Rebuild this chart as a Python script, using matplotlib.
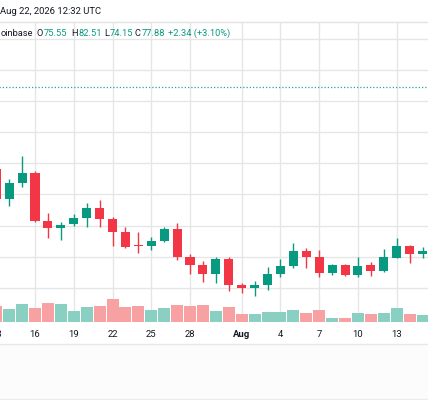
import numpy as np
import pandas as pd
import matplotlib
matplotlib.use("Agg")
import matplotlib.pyplot as plt
import matplotlib.dates as mdates
from matplotlib.lines import Line2D
from matplotlib.patches import Rectangle

plt.rcParams['font.family'] = ['Roboto', 'DejaVu Sans']

# daily candles, Jul 13 .. Aug 15
dates = pd.date_range("2026-07-13", "2026-08-15", freq="D")
opens = [72.62, 70.69, 71.76, 72.40, 69.32, 68.83, 69.08, 69.51, 70.11, 69.41,
         68.61, 67.73, 67.69, 68.01, 68.76, 66.96, 66.47, 65.89, 66.83, 65.18,
         65.01, 65.18, 65.87, 66.40, 67.37, 67.00, 65.93, 66.47, 65.82, 66.47,
         66.10, 66.94, 67.69, 67.17]
highs = [73.03, 72.02, 73.48, 72.53, 69.83, 69.25, 69.73, 70.43, 70.65, 69.55,
         68.93, 68.57, 68.25, 68.89, 69.15, 67.15, 66.72, 66.98, 66.96, 65.33,
         65.44, 66.36, 66.83, 67.90, 67.54, 67.43, 66.53, 66.53, 66.96, 66.68,
         67.48, 68.18, 67.75, 67.64]
lows = [70.39, 70.26, 71.46, 69.23, 68.18, 68.07, 68.97, 68.89, 68.89, 67.69,
        67.54, 67.26, 67.43, 67.96, 66.79, 65.89, 65.39, 65.29, 64.81, 64.65,
        64.47, 64.86, 65.68, 66.25, 66.25, 65.68, 65.82, 65.78, 65.71, 65.76,
        66.04, 66.90, 66.61, 66.90]
closes = [70.69, 71.72, 72.36, 69.32, 68.83, 69.04, 69.47, 70.11, 69.41, 68.61,
          67.64, 67.67, 68.01, 68.76, 66.96, 66.47, 65.87, 66.83, 65.18, 65.01,
          65.18, 65.87, 66.40, 67.37, 67.00, 65.93, 66.47, 65.82, 66.40, 66.10,
          66.96, 67.69, 67.17, 67.37]
volumes = [160, 130, 177, 143, 193, 177, 107, 150, 157, 227,
           150, 160, 123, 143, 170, 157, 167, 113, 147, 80,
           80, 97, 100, 123, 87, 117, 43, 37, 93, 77,
           93, 140, 83, 67]

tick_dates = pd.to_datetime(["2026-07-13", "2026-07-16", "2026-07-19", "2026-07-22",
                             "2026-07-25", "2026-07-28", "2026-08-01", "2026-08-04",
                             "2026-08-07", "2026-08-10", "2026-08-13"])
tick_labels = ["13", "16", "19", "22", "25", "28", "Aug", "4", "7", "10", "13"]
price_grid = [65, 67, 69, 71, 73, 75, 77, 79, 81]

header = "Aug 22, 2026 12:32 UTC"
exchange = "oinbase"
last_ohlc = [("O", 75.55), ("H", 82.51), ("L", 74.15), ("C", 77.88)]
last_change = 2.34
last_change_pct = 3.10

GREEN = "#089981"
RED = "#f23645"
VGREEN = "#89d0c3"
VRED = "#f7a1a3"
GRID = "#e6e6e6"
DARK = "#131722"

W, H = 428, 400
fig = plt.figure(figsize=(W / 100, H / 100), dpi=100)
fig.patch.set_facecolor("white")

def fx(px):
    return px / W

def fy(py):
    return 1 - py / H

# pane in pixels (left edge starts off-figure so the 13 tick is kept)
left_px, right_px, top_px, bot_px = -20, 428, 21.7, 322
ax_vol = fig.add_axes([fx(left_px), fy(bot_px), (right_px - left_px) / W, (bot_px - top_px) / H])
ax = ax_vol.twinx()

x = mdates.date2num(dates)
x16 = mdates.date2num(pd.Timestamp("2026-07-16"))
px_day = 12.918
ax_vol.set_xlim(x16 - (35 - left_px) / px_day, x16 + (right_px - 35) / px_day)
ax_vol.set_ylim(0, 3000)
ax.set_ylim(62.80, 82.11)

o = np.array(opens)
c = np.array(closes)
up = c >= o
colors = np.where(up, GREEN, RED)
vcolors = np.where(up, VGREEN, VRED)

# volume
ax_vol.bar(x, volumes, width=0.93, color=vcolors, linewidth=0, zorder=2)

# grid
ax_vol.set_xticks(mdates.date2num(tick_dates), labels=tick_labels)
ax_vol.grid(axis="x", color=GRID, lw=1, zorder=0)
ax_vol.set_axisbelow(True)
for lvl in price_grid:
    ax.axhline(lvl, color=GRID, lw=1, zorder=0)

# candles
ax.vlines(x, lows, highs, colors=colors, lw=1, zorder=2)
body_h = np.maximum(np.abs(c - o), 0.07)
ax.bar(x, body_h, bottom=np.minimum(o, c), width=0.7, color=colors, linewidth=0, zorder=3)

# last price line
ax.axhline(last_ohlc[3][1], color="#26a69a", lw=0.9, ls=(0, (1, 1.6)), zorder=1)

for a in (ax, ax_vol):
    for s in a.spines.values():
        s.set_visible(False)
    a.set_yticks([])
ax_vol.tick_params(axis="x", length=0, pad=5.5, labelsize=6.8, labelcolor=DARK)
for lab in ax_vol.get_xticklabels():
    if lab.get_text() == "Aug":
        lab.set_fontweight("bold")

# frame lines and bottom strip
fig.add_artist(Rectangle((0, 0), 1, fy(344.3), transform=fig.transFigure,
                         facecolor="#fcfcfc", edgecolor="none", zorder=0))
fig.add_artist(Line2D([0, 1], [fy(21.7), fy(21.7)], color="#e3e3e3", lw=1))
fig.add_artist(Line2D([0, 1], [fy(344.3), fy(344.3)], color="#e8e8e8", lw=1))
fig.add_artist(Line2D([0, 1], [fy(399.3), fy(399.3)], color="#ececec", lw=1))

# header and legend row
fig.text(fx(-0.5), fy(12), header, ha="left", va="center", fontsize=6.8, color=DARK)

renderer = fig.canvas.get_renderer()
ly = fy(33.3)
fs = 6.7
fig.text(fx(0.5), ly, exchange, ha="left", va="center", fontsize=fs, color=DARK)
key_x = [36.5, 71.2, 104.5, 134.5]
for (key, val), kx in zip(last_ohlc, key_x):
    t = fig.text(fx(kx), ly, key, ha="left", va="center", fontsize=fs, color=DARK)
    vx = t.get_window_extent(renderer=renderer).x1 + 0.8
    fig.text(fx(vx), ly, f"{val:.2f}", ha="left", va="center", fontsize=fs, color=GREEN)
fig.text(fx(168), ly, f"+{last_change:.2f} (+{last_change_pct:.2f}%)",
         ha="left", va="center", fontsize=fs, color=GREEN)

fig.savefig("out.png", dpi=100)
